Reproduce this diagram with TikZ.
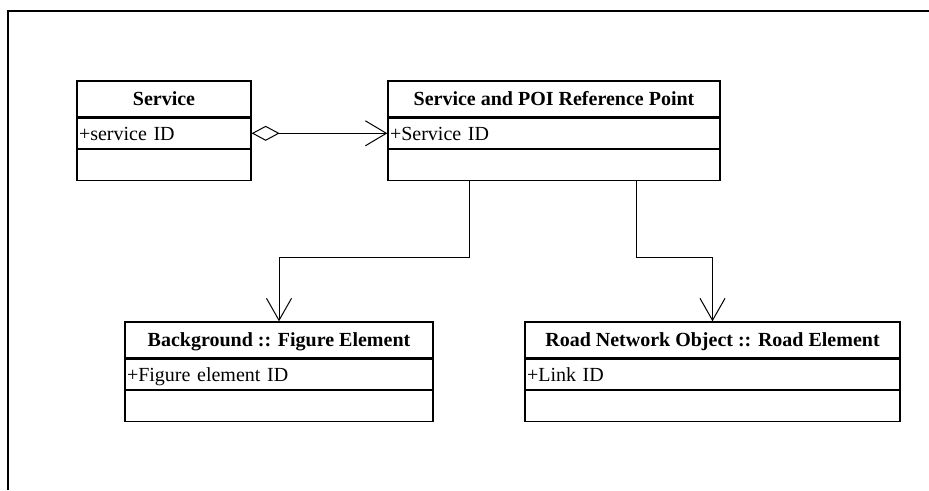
\documentclass[tikz,border=0pt]{standalone}
\usepackage{fontspec}
\setmainfont{Liberation Serif}
\usetikzlibrary{positioning,calc,arrows.meta}

\begin{document}
\begin{tikzpicture}[x=1pt, y=-1pt,
        head/.style={rectangle, draw, line width=1.3pt, minimum height=36pt, minimum width=#1, inner sep=0pt, text height=13.5pt, text depth=0pt, font=\fontsize{20}{24}\selectfont\bfseries},
        attr/.style={rectangle, draw, line width=1.3pt, minimum height=30pt, text width=#1, inner xsep=2pt, inner ysep=0pt, align=left, text height=13.5pt, text depth=0pt, font=\fontsize{20}{24}\selectfont},
        blank/.style={rectangle, draw, line width=1.3pt, minimum height=31pt, minimum width=#1},
        agg/.style={{Diamond[open,length=28pt,width=15pt]}-{Straight Barb[length=21pt,width=25pt]}, line width=1pt},
        gen/.style={-{Straight Barb[length=22pt,width=25pt]}, line width=1pt}
    ]
        \useasboundingbox (0,0) rectangle (929,490);
        % Frame
        \draw[line width=1.5pt] (8,490) -- (8,11) -- (929,11);

        % Service
        \node[head=174pt] (svc) at (164,99) {Service};
        \node[attr=170pt, below=0pt of svc] (svcA) {+service ID};
        \node[blank=174pt, below=0pt of svcA] (svcB) {};

        % Service and POI Reference Point
        \node[head=332pt] (spoi) at (554,99) {Service and POI Reference Point};
        \node[attr=328pt, below=0pt of spoi] (spoiA) {+Service ID};
        \node[blank=332pt, below=0pt of spoiA] (spoiB) {};

        % Figure element
        \node[head=308pt] (bg) at (279,340) {Background :: Figure Element};
        \node[attr=304pt, below=0pt of bg] (bgA) {+Figure element ID};
        \node[blank=308pt, below=0pt of bgA] (bgB) {};

        % Road element
        \node[head=375pt] (road) at (712.5,340) {Road Network Object :: Road Element};
        \node[attr=371pt, below=0pt of road] (roadA) {+Link ID};
        \node[blank=375pt, below=0pt of roadA] (roadB) {};

        % Arrows
        \draw[agg] (svcA.east) -- (spoiA.west);
        \draw[gen] ([xshift=82pt]spoiB.south west) -- ++(0,76) -| (bg.north);
        \draw[gen] ([xshift=249pt]spoiB.south west) -- ++(0,76) -| (road.north);
    \end{tikzpicture}
\end{document}
